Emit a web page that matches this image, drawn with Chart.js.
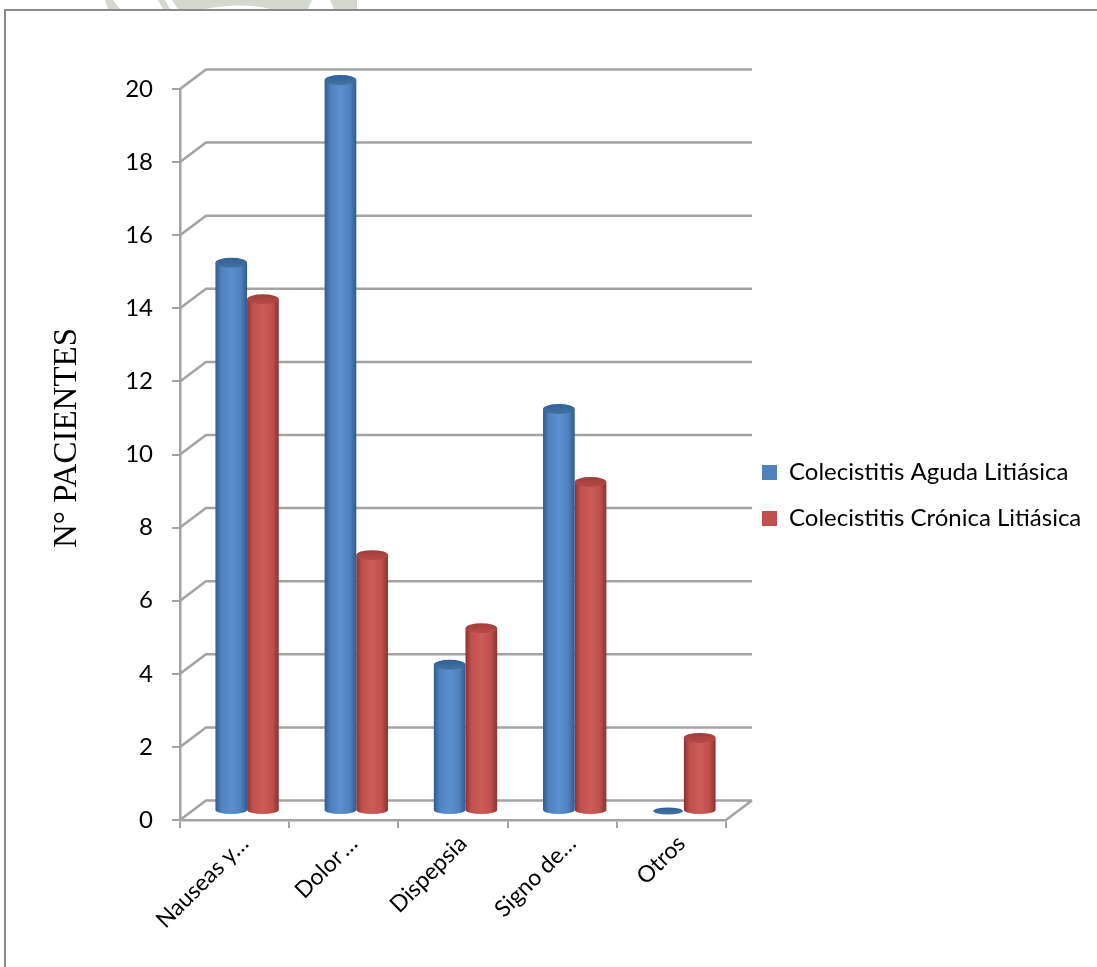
<!DOCTYPE html>
<html>
<head>
<meta charset="utf-8">
<title>Síntomas</title>
<script src="https://cdn.jsdelivr.net/npm/chart.js@4"></script>
<style>
  html, body { margin: 0; background: #fff; }
  #frame { position: absolute; left: 4px; top: 9px; width: 1093px; height: 958px; border: 2px solid #8c8c8c; border-width: 2px 0 0 2px; }
  #logo { position: absolute; left: 0; top: 0; }
  canvas { position: absolute; left: 0; top: 0; }
</style>
</head>
<body>
<svg id="logo" width="1097" height="10">
  <path d="M105 0H113L120 9H108Z M158 0H165L170 9H163Z M172 0H312L308 9H270Q240 2 205 9H178Z M330 0H357V9H334Z" fill="#d3dacd"/>
</svg>
<div id="frame"></div>
<canvas id="canvas" width="1097" height="967"></canvas>
<script>
const categorias = ['Nauseas y…', 'Dolor\u2009…', 'Dispepsia', 'Signo de…', 'Otros']
const aguda = [15, 20, 4, 11, 0]
const cronica = [14, 7, 5, 9, 2]
const ejeY = 'N° PACIENTES'

const gris = '#a3a3a3'
// depth of the walls and of the bars sitting in the middle of the floor
const fondoX = 26
const fondoY = 19.5
const barraX = 12.5
const barraY = 9

const colores = {
  azul: { base: '#4f81bd', borde: '#2f5b8f', luz: '#5b8fce', tapa: '#2f6199', tapa2: '#44739f' },
  rojo: { base: '#c0504d', borde: '#8a3230', luz: '#cc5c58', tapa: '#a03d3a', tapa2: '#b84a47' },
}

// bar controller that paints each bar as a cylinder
class Cilindro extends Chart.BarController {
  draw() {
    const ctx = this.chart.ctx
    const meta = this.getMeta()
    const c = this.index === 0 ? colores.azul : colores.rojo
    ctx.save()
    ctx.translate(barraX, -barraY)
    meta.data.forEach(bar => {
      const r = bar.width / 2
      const ry = 5
      const izq = bar.x - r
      const grad = ctx.createLinearGradient(izq, 0, izq + bar.width, 0)
      grad.addColorStop(0, c.borde)
      grad.addColorStop(0.18, c.base)
      grad.addColorStop(0.5, c.luz)
      grad.addColorStop(0.8, c.base)
      grad.addColorStop(1, c.borde)
      if (bar.base - bar.y > 0.5) {
        ctx.fillStyle = grad
        ctx.beginPath()
        ctx.moveTo(izq, bar.y)
        ctx.lineTo(izq, bar.base)
        ctx.ellipse(bar.x, bar.base, r, ry - 1, 0, Math.PI, 0, true)
        ctx.lineTo(izq + bar.width, bar.y)
        ctx.closePath()
        ctx.fill()
      }
      const tapa = ctx.createLinearGradient(0, bar.y - ry, 0, bar.y + ry)
      tapa.addColorStop(0, c.tapa)
      tapa.addColorStop(1, c.tapa2)
      ctx.fillStyle = tapa
      ctx.beginPath()
      if (bar.base - bar.y > 0.5) {
        ctx.ellipse(bar.x, bar.y, r, ry, 0, 0, Math.PI * 2)
      } else {
        ctx.ellipse(bar.x, bar.y, r - 1, 3.5, 0, 0, Math.PI * 2)
      }
      ctx.fill()
    })
    ctx.restore()
  }
}
Cilindro.id = 'cilindro'
Cilindro.defaults = Chart.BarController.defaults
Cilindro.overrides = Chart.BarController.overrides
Chart.register(Cilindro)

// back wall lines and floor, taken from the scales
const paredes = {
  id: 'paredes',
  beforeLayout(chart) {
    const legend = chart.legend
    if (legend.fijo) return
    const fit = legend.fit
    legend.fit = function () {
      fit.call(this)
      this.width = 371
    }
    legend.fijo = true
  },
  afterLayout(chart) {
    chart.legend.left += 14
    chart.legend.top -= 65
  },
  beforeDatasetsDraw(chart) {
    const { ctx, scales: { x, y } } = chart
    ctx.save()
    ctx.strokeStyle = gris
    ctx.lineWidth = 2.5
    y.ticks.forEach(t => {
      const py = y.getPixelForValue(t.value)
      ctx.beginPath()
      ctx.moveTo(x.left, py)
      ctx.lineTo(x.left + fondoX, py - fondoY)
      ctx.lineTo(x.right + fondoX, py - fondoY)
      ctx.stroke()
    })
    const cero = y.getPixelForValue(0)
    ctx.beginPath()
    ctx.moveTo(x.right, cero)
    ctx.lineTo(x.right + fondoX, cero - fondoY)
    ctx.stroke()
    ctx.restore()
  },
  afterDraw(chart) {
    const { ctx } = chart
    ctx.save()
    ctx.translate(76, 438)
    ctx.rotate(-Math.PI / 2)
    ctx.font = '33px "Liberation Serif"'
    ctx.textAlign = 'center'
    ctx.fillStyle = '#000'
    ctx.fillText(ejeY, 0, 0)
    ctx.restore()
  },
}

const fuente = { family: 'Lato', size: 24 }

const canvas = document.getElementById('canvas')
new Chart(canvas, {
  type: 'cilindro',
  data: {
    labels: categorias,
    datasets: [
      { label: 'Colecistitis Aguda Litiásica', data: aguda, backgroundColor: '#4f81bd', clip: false },
      { label: 'Colecistitis Crónica Litiásica', data: cronica, backgroundColor: '#c0504d', clip: false },
    ],
  },
  options: {
    responsive: false,
    animation: false,
    layout: { padding: { top: 89, left: 0, right: 0, bottom: 0 } },
    barPercentage: 1,
    categoryPercentage: 0.58,
    plugins: {
      tooltip: { enabled: false },
      legend: {
        position: 'right',
        labels: { boxWidth: 15, boxHeight: 15, padding: 22, color: '#000', font: fuente },
      },
    },
    scales: {
      x: {
        afterFit(s) { s.height = 147 },
        border: { color: gris, width: 2.5 },
        grid: { drawOnChartArea: false, color: gris, tickColor: gris, tickLength: 8, lineWidth: 2 },
        ticks: { maxRotation: 45, minRotation: 45, autoSkip: false, color: '#000', font: { family: 'Lato', size: 23 }, padding: 2, labelOffset: 10 },
      },
      y: {
        min: 0,
        max: 20,
        afterFit(s) { s.width = 180 },
        border: { color: gris, width: 2.5 },
        grid: { drawOnChartArea: false, color: gris, tickColor: gris, tickLength: 8, lineWidth: 2 },
        ticks: { stepSize: 2, color: '#000', font: fuente, padding: 19 },
      },
    },
  },
  plugins: [paredes],
})
</script>
</body>
</html>
